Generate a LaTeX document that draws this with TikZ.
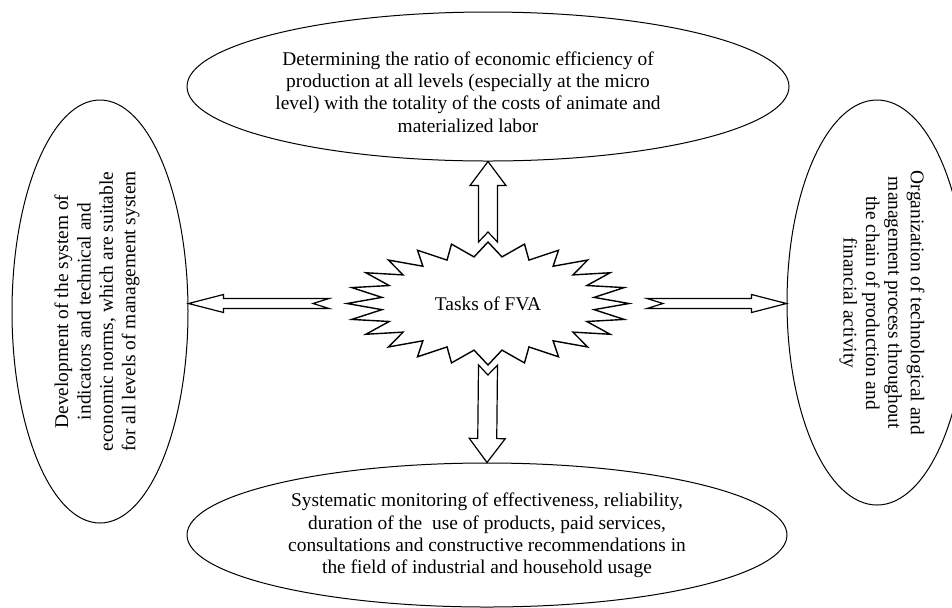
\documentclass[tikz,border=0pt]{standalone}
\usepackage{fontspec}
\setmainfont{Liberation Serif}
\usetikzlibrary{shapes.geometric,calc}
\tikzset{
  goal/.style={draw,ellipse,inner sep=0pt,line width=0.5pt},
  txt/.style={align=center,inner sep=0pt,font=\fontsize{9.7}{11.2}\selectfont},
  hollow/.style n args={4}{draw,line width=0.6pt,to path={
      ($(\tikztostart)!#4!(\tikztotarget)$)
      -- ($(\tikztostart)!#1!90:(\tikztotarget)$)
      -- ($(\tikztotarget)!#3!(\tikztostart)!#1!-90:(\tikztostart)$)
      -- ($(\tikztotarget)!#3!(\tikztostart)!#2!-90:(\tikztostart)$)
      -- (\tikztotarget)
      -- ($(\tikztotarget)!#3!(\tikztostart)!#2!90:(\tikztostart)$)
      -- ($(\tikztotarget)!#3!(\tikztostart)!#1!90:(\tikztostart)$)
      -- ($(\tikztostart)!#1!-90:(\tikztotarget)$)
      -- cycle}}
}
\begin{document}
\begin{tikzpicture}[x=0.5pt,y=-0.5pt]
\useasboundingbox (0,0) rectangle (952,607);
% four tasks round the centre
\node[goal,minimum width=301pt,minimum height=74.5pt] (top) at (488,86.5) {};
\node[goal,minimum width=300pt,minimum height=72pt] (bot) at (487,535) {};
\node[goal,minimum width=88pt,minimum height=211.5pt] (left) at (100,311.5) {};
\node[goal,minimum width=90pt,minimum height=202.5pt] (right) at (877,302.5) {};
\node[txt] (txtTop) at (468,92) {Determining the ratio of economic efficiency of\\production at all levels (especially at the micro\\level) with the totality of the costs of animate and\\materialized labor};
\node[txt] (txtBot) at (487,535.5) {Systematic monitoring of effectiveness, reliability,\\duration of the\ \ use of products, paid services,\\consultations and constructive recommendations in\\the field of industrial and household usage};
\node[txt,rotate=90] (txtLeft) at (97,311.5) {Development of the system of\\indicators and technical and\\economic norms, which are suitable\\for all levels of management system};
\node[txt,rotate=-90] (txtRight) at (882,303) {Organization of technological and\\management process throughout\\the chain of production and\\financial activity};
% the burst
\node[txt] (fva) at (488,303.5) {Tasks of FVA};
\draw[line width=0.7pt,line join=miter] ($(fva)+(0:141 and 61.5)$)
  \foreach \a in {0,15,...,345}{ -- ($(fva)+({\a+7.5}:107 and 47)$) -- ($(fva)+({\a+15}:141 and 61.5)$)} -- cycle;
\coordinate (fvaN) at ($(fva)+(0,-61.5)$);
\coordinate (fvaS) at ($(fva)+(0,61.5)$);
\coordinate (fvaW) at ($(fva)+(-159,0)$);
\coordinate (fvaE) at ($(fva)+(159,0)$);
\draw[hollow={4.75pt}{9pt}{12pt}{5pt}] (fvaN) to (top.south);
\draw[hollow={4.75pt}{9pt}{12pt}{5pt}] (fvaS) to (bot.north);
\draw[hollow={2.5pt}{4.5pt}{17.5pt}{8pt}] (fvaW) to (left.east |- fvaW);
\draw[hollow={2.5pt}{4.5pt}{17.5pt}{8pt}] (fvaE) to (right.west |- fvaE);
\end{tikzpicture}
\end{document}
